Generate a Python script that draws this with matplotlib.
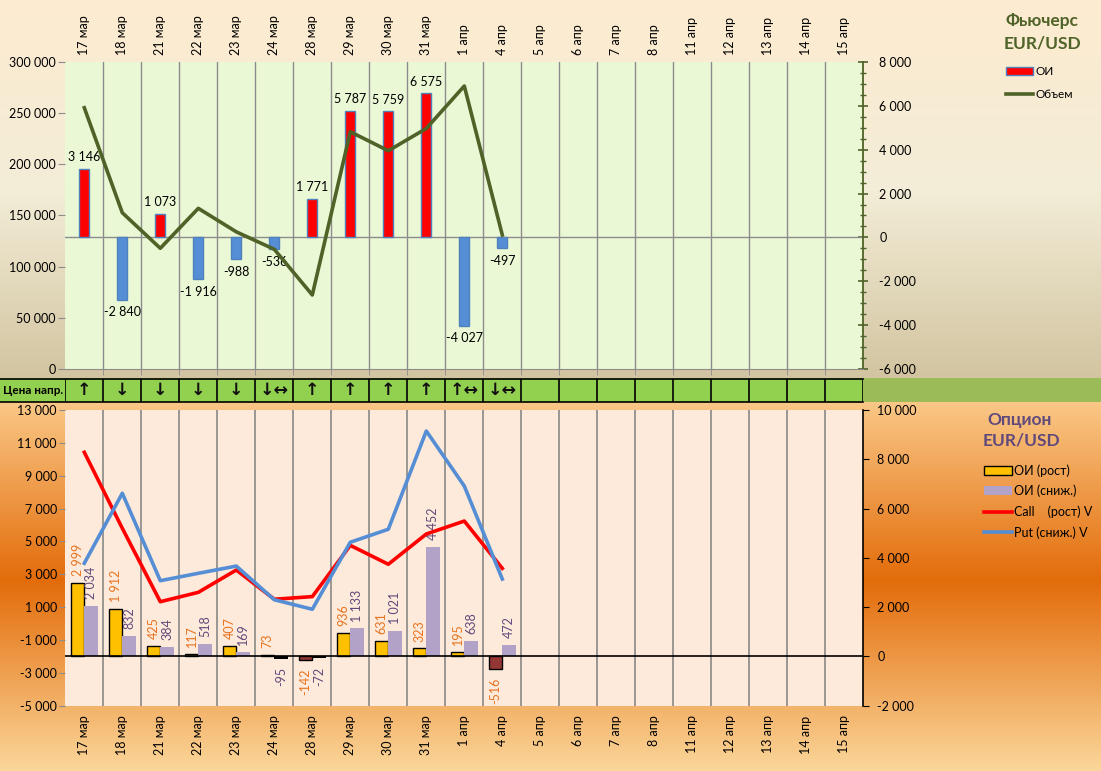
import numpy as np
import matplotlib
matplotlib.use('Agg')
import matplotlib.pyplot as plt
from matplotlib.patches import Patch, Rectangle
from matplotlib.lines import Line2D
from matplotlib.ticker import FuncFormatter, MultipleLocator

plt.rcParams['font.family'] = ['Lato', 'DejaVu Sans']

# ---------------- data ----------------
dates = ['17 мар', '18 мар', '21 мар', '22 мар', '23 мар', '24 мар', '28 мар',
         '29 мар', '30 мар', '31 мар', '1 апр', '4 апр', '5 апр', '6 апр',
         '7 апр', '8 апр', '11 апр', '12 апр', '13 апр', '14 апр', '15 апр']

# futures: open interest change (right axis) and volume (left axis)
fut_oi = [3146, -2840, 1073, -1916, -988, -536, 1771, 5787, 5759, 6575, -4027, -497]
fut_volume = [255500, 152700, 117900, 157000, 134000, 116900, 72200,
              232000, 213400, 235200, 276800, 130900]

price_dir = ['↑', '↓', '↓', '↓', '↓', '↓↔', '↑', '↑', '↑', '↑', '↑↔', '↓↔']

# options: OI change (right axis) and call / put volume (left axis)
opt_oi_up = [2999, 1912, 425, 117, 407, 73, -142, 936, 631, 323, 195, -516]
opt_oi_down = [2034, 832, 384, 518, 169, -95, -72, 1133, 1021, 4452, 638, 472]
call_vol = [10425, 5800, 1330, 1900, 3260, 1480, 1640, 4760, 3610, 5450, 6240, 3360]
put_vol = [3670, 7930, 2610, 3060, 3500, 1450, 870, 4950, 5740, 11720, 8370, 2710]

W, H = 1101, 771
fig = plt.figure(figsize=(W / 100, H / 100), dpi=100)


def fmt(v, pos=None):
    return f"{int(round(v)):,}".replace(',', ' ')


def px_rect(x0, y0, x1, y1):
    # figure-pixel box (y measured from top) -> fraction rect
    return [x0 / W, 1 - y1 / H, (x1 - x0) / W, (y1 - y0) / H]


# ---------------- background ----------------
bg = fig.add_axes([0, 0, 1, 1])
bg.set_xlim(0, W)
bg.set_ylim(H, 0)
bg.axis('off')

yy = np.arange(H)
top_stops = ([0, 190, 378], [(253, 235, 208), (243, 237, 215), (210, 196, 160)])
bot_stops = ([401, 580, 771], [(250, 200, 135), (227, 108, 10), (251, 215, 155)])
img = np.zeros((H, 1, 3))
for ys, cols in (top_stops, bot_stops):
    cols = np.array(cols) / 255.
    mask = (yy >= ys[0]) & (yy <= ys[-1])
    for c in range(3):
        img[mask, 0, c] = np.interp(yy[mask], ys, cols[:, c])
bg.imshow(img, aspect='auto', extent=(0, W, H, 0), zorder=0)

# price-direction strip
bg.add_patch(Rectangle((0, 378), 863, 23.5, facecolor='#92D050', edgecolor='none', zorder=1))
bg.add_patch(Rectangle((863, 378), W - 863, 23.5, facecolor='#9BBB59', edgecolor='none', zorder=1))
bg.plot([0, 863], [378.5, 378.5], color='black', lw=1.2, zorder=2)
bg.plot([0, 863], [401.5, 401.5], color='black', lw=1.2, zorder=2)
bg.text(3, 390, 'Цена напр.', fontsize=8.5, fontweight='bold', va='center', ha='left', zorder=3)

n = len(dates)
xs = np.arange(n)
xlim = (-0.5, n - 0.5)

# ---------------- futures chart ----------------
ax1 = fig.add_axes(px_rect(65.3, 62.3, 863.3, 368.7))
ax1.set_facecolor('#EBF8D5')
ax1l = ax1.twinx()
ax1.yaxis.tick_right()
ax1l.yaxis.tick_left()

ax1.set_xlim(*xlim)
ax1.set_ylim(-6000, 8000)
ax1l.set_ylim(0, 300000)

xi = xs[:len(fut_oi)]
fut_col = ['#FF0000' if v > 0 else '#558ED5' for v in fut_oi]
ax1.bar(xi, fut_oi, width=0.26, color=fut_col, edgecolor='#4F81BD', linewidth=1, zorder=3)
ax1.axhline(0, color='#8C8C8C', lw=1, zorder=2)
for x, v in zip(xi, fut_oi):
    ax1.annotate(fmt(v), (x, v), xytext=(0, 4 if v > 0 else -5), textcoords='offset points',
                 ha='center', va='bottom' if v > 0 else 'top', fontsize=9, zorder=5)

ax1l.plot(xi, fut_volume, color='#4F6228', lw=2.6, zorder=4)

ax1.set_xticks(xs)
ax1.set_xticklabels(dates)
ax1.set_xticks(xs[:-1] + 0.5, minor=True)
ax1.grid(which='minor', axis='x', color='#8C8C8C', lw=1)
ax1.tick_params(axis='x', which='major', top=True, labeltop=True, bottom=False,
                labelbottom=False, length=0, rotation=90, pad=5, labelsize=9)
ax1.tick_params(axis='x', which='minor', bottom=True, top=False, length=4, color='#8C8C8C')

ax1.yaxis.set_major_locator(MultipleLocator(2000))
ax1.yaxis.set_minor_locator(MultipleLocator(500))
ax1.yaxis.set_major_formatter(FuncFormatter(fmt))
ax1.tick_params(axis='y', which='major', direction='inout', length=7, color='#4F6228',
                width=1.2, labelsize=9, pad=8)
ax1.tick_params(axis='y', which='minor', direction='inout', length=4, color='#4F6228', width=1)
ax1l.yaxis.set_major_locator(MultipleLocator(50000))
ax1l.yaxis.set_major_formatter(FuncFormatter(fmt))
ax1l.tick_params(axis='y', direction='out', length=5, color='#8C8C8C', labelsize=9, pad=2)

for s in ('top', 'left'):
    ax1.spines[s].set_visible(False)
ax1.spines['right'].set_color('#4F6228')
ax1.spines['right'].set_linewidth(1.3)
ax1.spines['bottom'].set_color('#8C8C8C')
for s in ax1l.spines.values():
    s.set_visible(False)

fig.text(1042 / W, 1 - 21 / H, 'Фьючерс', fontsize=12.5, fontweight='bold',
         color='#4F6228', ha='center', va='center')
fig.text(1042 / W, 1 - 43.5 / H, 'EUR/USD', fontsize=12.5, fontweight='bold',
         color='#4F6228', ha='center', va='center')
fig.legend(handles=[Patch(facecolor='#FF0000', edgecolor='#4F81BD', label='ОИ'),
                    Line2D([], [], color='#4F6228', lw=2.6, label='Объем')],
           loc='upper left', bbox_to_anchor=(1006 / W, 1 - 66 / H), frameon=False,
           fontsize=8.5, handlelength=2.3, handleheight=0.6, handletextpad=0.2,
           labelspacing=1.0, borderpad=0, borderaxespad=0)

# ---------------- price direction arrows ----------------
axs = fig.add_axes(px_rect(65.3, 378.5, 863.3, 401.5))
axs.set_xlim(*xlim)
axs.set_ylim(0, 1)
axs.axis('off')
axs.vlines(np.arange(-0.5, n, 1), 0, 1, color='black', lw=1.2)
for x, a in zip(xs, price_dir):
    axs.text(x, 0.5, a, ha='center', va='center', fontsize=12.5, fontweight='bold',
             family='DejaVu Sans', color='#111111')

# ---------------- options chart ----------------
ax2 = fig.add_axes(px_rect(65.3, 410, 863.3, 705.7))
ax2.set_facecolor('#FDEADA')
ax2l = ax2.twinx()
ax2.yaxis.tick_right()
ax2l.yaxis.tick_left()

ax2.set_xlim(*xlim)
ax2.set_ylim(-2000, 10000)
ax2l.set_ylim(-5000, 13000)

xo = xs[:len(opt_oi_up)]
bw = 0.355
up_col = ['#FFC000' if v > 0 else '#943634' for v in opt_oi_up]
dn_col = ['#B3A2C7' if v > 0 else '#000000' for v in opt_oi_down]
ax2.bar(xo - bw / 2, opt_oi_up, width=bw, color=up_col, edgecolor='black', linewidth=1, zorder=3)
ax2.bar(xo + bw / 2, opt_oi_down, width=bw, color=dn_col, edgecolor='none', zorder=3)
ax2.axhline(0, color='black', lw=1.2, zorder=4)
for x, v in zip(xo, opt_oi_up):
    ax2.annotate(fmt(v), (x - bw / 2, v), xytext=(0, 5 if v > 0 else -6), textcoords='offset points',
                 ha='center', va='bottom' if v > 0 else 'top', rotation=90, fontsize=9,
                 color='#E8731E', zorder=5)
for x, v in zip(xo, opt_oi_down):
    ax2.annotate(fmt(v), (x + bw / 2, v), xytext=(0, 5 if v > 0 else -6), textcoords='offset points',
                 ha='center', va='bottom' if v > 0 else 'top', rotation=90, fontsize=9,
                 color='#604A7B', zorder=5)

ax2l.plot(xo, call_vol, color='#FF0000', lw=2.6, zorder=4)
ax2l.plot(xo, put_vol, color='#558ED5', lw=2.6, zorder=4)

ax2.set_xticks(xs)
ax2.set_xticklabels(dates)
ax2.set_xticks(xs[:-1] + 0.5, minor=True)
ax2.grid(which='minor', axis='x', color='#7F7F7F', lw=1.1)
ax2.tick_params(axis='x', which='major', length=0, rotation=90, pad=7, labelsize=9)
ax2.tick_params(axis='x', which='minor', length=0)

ax2.yaxis.set_major_locator(MultipleLocator(2000))
ax2.yaxis.set_major_formatter(FuncFormatter(fmt))
ax2.tick_params(axis='y', direction='out', length=4, color='black', labelsize=9, pad=6)
ax2l.set_yticks(np.arange(-5000, 13001, 2000))
ax2l.yaxis.set_major_formatter(FuncFormatter(fmt))
ax2l.tick_params(axis='y', direction='out', length=4, color='#8C8C8C', labelsize=9, pad=2)

for s in ('top', 'left', 'bottom'):
    ax2.spines[s].set_visible(False)
ax2.spines['right'].set_color('black')
ax2.spines['right'].set_linewidth(1.2)
for s in ax2l.spines.values():
    s.set_visible(False)

fig.text(1020 / W, 1 - 420 / H, 'Опцион', fontsize=12.5, fontweight='bold',
         color='#604A7B', ha='center', va='center')
fig.text(1021 / W, 1 - 441 / H, 'EUR/USD', fontsize=12.5, fontweight='bold',
         color='#604A7B', ha='center', va='center')
fig.legend(handles=[Patch(facecolor='#FFC000', edgecolor='black', label='ОИ (рост)'),
                    Patch(facecolor='#B3A2C7', edgecolor='none', label='ОИ (сниж.)'),
                    Line2D([], [], color='#FF0000', lw=2.6, label='Call    (рост) V'),
                    Line2D([], [], color='#558ED5', lw=2.6, label='Put (сниж.) V')],
           loc='upper left', bbox_to_anchor=(984 / W, 1 - 464 / H), frameon=False,
           fontsize=9, handlelength=2.2, handleheight=0.7, handletextpad=0.2,
           labelspacing=0.65, borderpad=0, borderaxespad=0)

fig.savefig('out.png', dpi=100)
